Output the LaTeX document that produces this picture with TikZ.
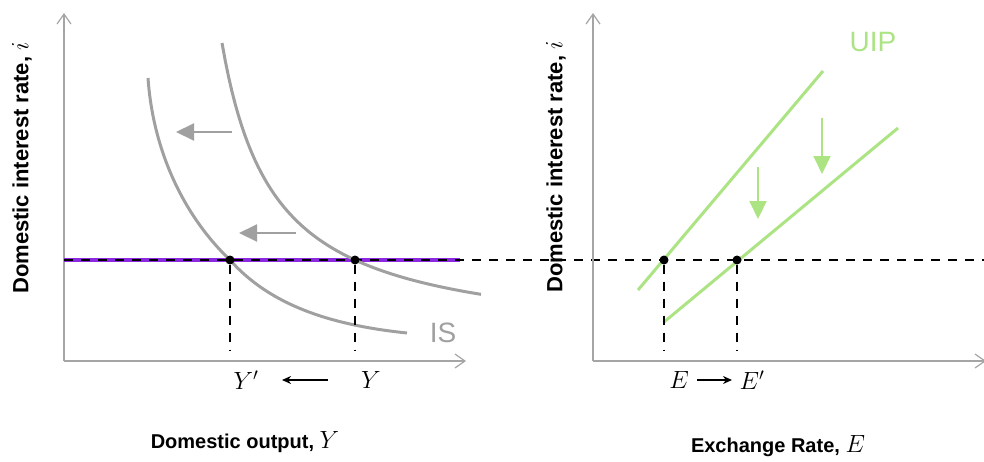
\documentclass[tikz,border=0pt]{standalone}
\usepackage{fontspec}
\setsansfont{Liberation Sans}
\usetikzlibrary{arrows.meta}
\definecolor{axgray}{RGB}{165,165,165}
\definecolor{isgray}{RGB}{160,160,160}
\definecolor{uipgreen}{RGB}{172,228,132}
\definecolor{purp}{RGB}{140,40,225}
\newcommand{\mbig}[1]{\textmd{\fontsize{24}{28}\selectfont$#1$}}
\tikzset{
  axis/.style={axgray, line width=1.4pt, -{Straight Barb[length=10pt,width=14pt,line width=1.2pt]}},
  iscurve/.style={isgray, line width=3pt},
  uipline/.style={uipgreen, line width=3pt},
  guide/.style={black, line width=1.6pt, dash pattern=on 9pt off 8pt},
  dot/.style={circle, fill=black, inner sep=0pt, minimum size=9pt},
  shiftgray/.style={isgray, line width=2pt, -{Triangle[length=18pt,width=17pt]}},
  shiftgreen/.style={uipgreen, line width=2pt, -{Triangle[length=18pt,width=17pt]}},
  small/.style={black, line width=1.6pt, -{Stealth[length=9pt,width=8pt]}},
  axlabel/.style={font=\sffamily\bfseries\fontsize{20}{24}\selectfont},
  yaxlabel/.style={font=\sffamily\bfseries\fontsize{22}{26}\selectfont, rotate=90},
  mathlab/.style={font=\fontsize{23}{27}\selectfont},
  curvelab/.style={font=\sffamily\fontsize{28}{32}\selectfont}
}
\begin{document}
\begin{tikzpicture}[x=1pt,y=-1pt]
\useasboundingbox (0,0) rectangle (984,461);
% ---------- left panel ----------
\coordinate (lo) at (64,361);
\coordinate (ltop) at (64,13);
\coordinate (lright) at (466,361);
\draw[axis] (lo) -- (ltop);
\draw[axis] (lo) -- (lright);
% purple line
\coordinate (pl) at (64,260);
\coordinate (pr) at (460,260);
\draw[purp, line width=4pt] (pl) -- (pr);
% long dashed line
\coordinate (dr) at (984,260);
\draw[guide] (pl) -- (dr);
% IS curves
\coordinate (is1a) at (148,78);
\coordinate (is1m) at (230,260);
\coordinate (is1b) at (407,333);
\draw[iscurve] (is1a) .. controls (153,150) and (183,215) .. (is1m)
                      .. controls (270,305) and (330,325) .. (is1b);
\draw[iscurve, domain=222:481, samples=80, variable=\t] plot ({\t},{344.8-15696/(\t-170)});
\node[curvelab, text=isgray] (islab) at (443,333) {IS};
% shift arrows
\coordinate (a1s) at (232,132); \coordinate (a1e) at (176,132);
\coordinate (a2s) at (296,233); \coordinate (a2e) at (239,233);
\draw[shiftgray] (a1s) -- (a1e);
\draw[shiftgray] (a2s) -- (a2e);
% equilibrium points
\node[dot] (yp) at (230,260) {};
\node[dot] (y0) at (355,260) {};
\coordinate (ypb) at (230,350);
\coordinate (y0b) at (355,350);
\draw[guide] (yp) -- (ypb);
\draw[guide] (y0) -- (y0b);
\node[mathlab] (ylab1) at (246,380) {$Y'$};
\node[mathlab] (ylab0) at (371,380) {$Y$};
\coordinate (bas) at (328,380); \coordinate (bae) at (282,380);
\draw[small] (bas) -- (bae);
\node[yaxlabel] (lyl) at (22,168) {Domestic interest rate, \mbig{i}};
\node[axlabel] (lxl) at (245,442) {Domestic output, \mbig{Y}};
% ---------- right panel ----------
\coordinate (ro) at (593,361);
\coordinate (rtop) at (593,13);
\coordinate (rright) at (986,361);
\draw[axis] (ro) -- (rtop);
\draw[axis] (ro) -- (rright);
\coordinate (u1a) at (638,290); \coordinate (u1b) at (823,71);
\coordinate (u2a) at (664,322); \coordinate (u2b) at (898,128);
\draw[uipline] (u1a) -- (u1b);
\draw[uipline] (u2a) -- (u2b);
\node[curvelab, text=uipgreen] (uiplab) at (873,42) {UIP};
\coordinate (g1s) at (758,167); \coordinate (g1e) at (758,219);
\coordinate (g2s) at (822,118); \coordinate (g2e) at (822,174);
\draw[shiftgreen] (g1s) -- (g1e);
\draw[shiftgreen] (g2s) -- (g2e);
\node[dot] (e0) at (664,260) {};
\node[dot] (e1) at (737,260) {};
\coordinate (e0b) at (664,350);
\coordinate (e1b) at (737,350);
\draw[guide] (e0) -- (e0b);
\draw[guide] (e1) -- (e1b);
\node[mathlab] (elab0) at (679,380) {$E$};
\node[mathlab] (elab1) at (752,380) {$E'$};
\coordinate (eas) at (697,380); \coordinate (eae) at (732,380);
\draw[small] (eas) -- (eae);
\node[yaxlabel] (ryl) at (556,167) {Domestic interest rate, \mbig{i}};
\node[axlabel] (rxl) at (778,446) {Exchange Rate, \mbig{E}};
\end{tikzpicture}
\end{document}
